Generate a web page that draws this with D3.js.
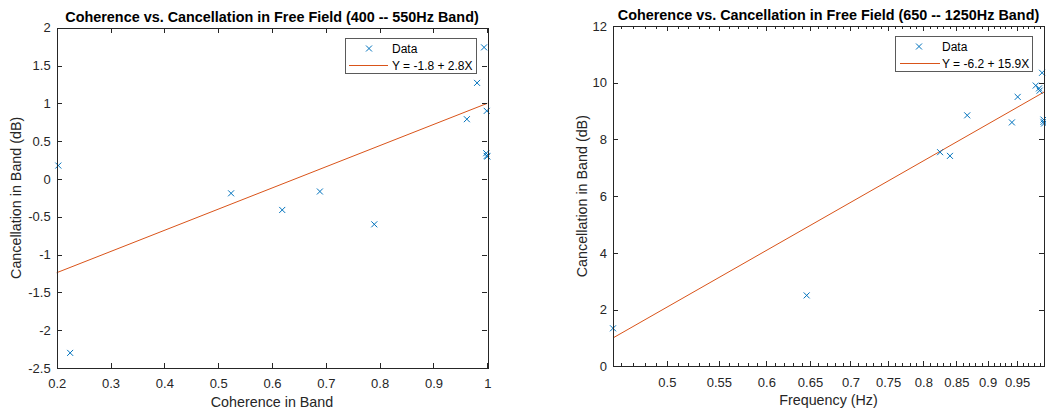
<!DOCTYPE html>
<html><head><meta charset="utf-8">
<script src="https://cdn.jsdelivr.net/npm/d3@7"></script>
<style>
html,body{margin:0;padding:0;background:#fff;}
svg{display:block;font-family:"Liberation Sans",Arial,Helvetica,sans-serif;}
</style></head>
<body>
<svg id="chart" width="1046" height="410"></svg>
<script>
// ---------- DATA ----------
// Left panel: 400 -- 550 Hz band
const leftTitle = "Coherence vs. Cancellation in Free Field (400 -- 550Hz Band)";
const leftXLabel = "Coherence in Band";
const leftYLabel = "Cancellation in Band (dB)";
const leftX = [0.203, 0.225, 0.524, 0.619, 0.689, 0.790, 0.962, 0.981, 0.994, 0.999, 0.998, 0.999, 1.000];
const leftY = [0.177, -2.30, -0.19, -0.41, -0.166, -0.60, 0.79, 1.27, 1.74, 0.90, 0.34, 0.305, 0.296];
const leftFitX = [0.2, 1.0];
const leftFitY = [-1.24, 1.0];
const leftFitLabel = "Y = -1.8 + 2.8X";
const leftXDomain = [0.2, 1];
const leftYDomain = [-2.5, 2];
const leftXTicks = [0.2, 0.3, 0.4, 0.5, 0.6, 0.7, 0.8, 0.9, 1];
const leftYTicks = [-2.5, -2, -1.5, -1, -0.5, 0, 0.5, 1, 1.5, 2];

// Right panel: 650 -- 1250 Hz band (log x axis)
const rightTitle = "Coherence vs. Cancellation in Free Field (650 -- 1250Hz Band)";
const rightXLabel = "Frequency (Hz)";
const rightYLabel = "Cancellation in Band (dB)";
const rightX = [0.453, 0.646, 0.825, 0.840, 0.867, 0.941, 0.951, 0.983, 0.989, 0.990, 0.9945, 0.997, 0.997, 0.998];
const rightY = [1.34, 2.50, 7.55, 7.42, 8.85, 8.60, 9.50, 9.90, 9.80, 9.72, 10.35, 8.70, 8.62, 8.56];
const rightFitX = [0.453, 0.998];
const rightFitY = [1.0, 9.67];
const rightFitLabel = "Y = -6.2 + 15.9X";
const rightXDomain = [0.453, 0.998];
const rightYDomain = [0, 12];
const rightXTicks = [0.5, 0.55, 0.6, 0.65, 0.7, 0.75, 0.8, 0.85, 0.9, 0.95];
const rightXMinor = [0.46,0.47,0.48,0.49,0.51,0.52,0.53,0.54,0.56,0.57,0.58,0.59,0.61,0.62,0.63,0.64,0.66,0.67,0.68,0.69,0.71,0.72,0.73,0.74,0.76,0.77,0.78,0.79,0.81,0.82,0.83,0.84,0.86,0.87,0.88,0.89,0.91,0.92,0.93,0.94,0.96,0.97,0.98,0.99];
const rightYTicks = [0, 2, 4, 6, 8, 10, 12];

const legendLabels = ["Data"];

// ---------- STYLE ----------
const axisColor = "#262626";
const dataColor = "#0072BD";
const fitColor = "#D95319";
const svg = d3.select("#chart");

function panel(opt) {
  const {x0, x1, y0, y1} = opt.box;
  const xs = (opt.log ? d3.scaleLog() : d3.scaleLinear()).domain(opt.xDomain).range([x0, x1]);
  const ys = d3.scaleLinear().domain(opt.yDomain).range([y1, y0]);
  const g = svg.append("g");
  const fmt = d => String(d);

  g.append("rect").attr("x", x0).attr("y", y0).attr("width", x1 - x0).attr("height", y1 - y0)
    .attr("fill", "#fff").attr("stroke", "none");

  // fit line
  g.append("path")
    .datum(opt.fitX.map((d, i) => [d, opt.fitY[i]]))
    .attr("d", d3.line().x(d => xs(d[0])).y(d => ys(d[1])))
    .attr("fill", "none").attr("stroke", fitColor).attr("stroke-width", 1);

  // markers
  const m = 3;
  const pts = g.append("g").selectAll("g").data(opt.xData.map((d, i) => [d, opt.yData[i]])).join("g")
    .attr("transform", d => `translate(${xs(d[0])},${ys(d[1])})`);
  pts.append("path").attr("d", `M${-m},${-m}L${m},${m}M${-m},${m}L${m},${-m}`)
    .attr("stroke", dataColor).attr("stroke-width", 1).attr("fill", "none");

  // axes
  const tl = 5, tlm = 3;
  const bottom = d3.axisBottom(xs).tickValues(opt.xTicks).tickFormat(fmt).tickSize(0).tickPadding(11);
  const left = d3.axisLeft(ys).tickValues(opt.yTicks).tickFormat(fmt).tickSize(0).tickPadding(6);
  const gb = g.append("g").attr("transform", `translate(0,${y1})`).call(bottom);
  const gl = g.append("g").attr("transform", `translate(${x0},0)`).call(left);
  [gb, gl].forEach(a => {
    a.select(".domain").remove();
    a.selectAll("text").attr("fill", axisColor).style("font-size", "13px")
      .style("font-family", '"Liberation Sans",Arial,sans-serif');
  });
  // inward ticks on all sides
  const tg = g.append("g").attr("stroke", axisColor).attr("stroke-width", 1).attr("shape-rendering", "crispEdges");
  opt.xTicks.forEach(t => {
    const x = Math.round(xs(t)) + 0.5;
    tg.append("line").attr("x1", x).attr("x2", x).attr("y1", y1).attr("y2", y1 - tl);
    tg.append("line").attr("x1", x).attr("x2", x).attr("y1", y0).attr("y2", y0 + tl);
  });
  (opt.xMinor || []).forEach(t => {
    const x = Math.round(xs(t)) + 0.5;
    tg.append("line").attr("x1", x).attr("x2", x).attr("y1", y1).attr("y2", y1 - tlm);
    tg.append("line").attr("x1", x).attr("x2", x).attr("y1", y0).attr("y2", y0 + tlm);
  });
  opt.yTicks.forEach(t => {
    const y = Math.round(ys(t)) + 0.5;
    tg.append("line").attr("x1", x0).attr("x2", x0 + tl).attr("y1", y).attr("y2", y);
    tg.append("line").attr("x1", x1).attr("x2", x1 - tl).attr("y1", y).attr("y2", y);
  });
  g.append("rect").attr("x", Math.round(x0) + 0.5).attr("y", Math.round(y0) + 0.5)
    .attr("width", Math.round(x1 - x0)).attr("height", Math.round(y1 - y0))
    .attr("fill", "none").attr("stroke", axisColor).attr("stroke-width", 1).attr("shape-rendering", "crispEdges");

  // title
  g.append("text").attr("x", (x0 + x1) / 2).attr("y", y0 - 6).attr("text-anchor", "middle")
    .attr("fill", "#000").style("font-size", "14.4px").style("font-weight", "bold").text(opt.title);
  // x label
  g.append("text").attr("x", (x0 + x1) / 2).attr("y", y1 + 39).attr("text-anchor", "middle")
    .attr("fill", axisColor).style("font-size", "14.3px").text(opt.xLabel);
  // y label
  g.append("text").attr("transform", `translate(${opt.yLabelX},${(y0 + y1) / 2}) rotate(-90)`)
    .attr("text-anchor", "middle").attr("fill", axisColor).style("font-size", "14.3px").text(opt.yLabel);

  // legend
  const L = opt.legend;
  const lg = g.append("g");
  lg.append("rect").attr("x", L.x + 0.5).attr("y", L.y + 0.5).attr("width", L.w).attr("height", L.h)
    .attr("fill", "#fff").style("stroke", "#5a5a5a").attr("stroke-width", 1.2).attr("shape-rendering", "crispEdges");
  const r1 = L.y + 10.5, r2 = L.y + 27;
  lg.append("path").attr("d", `M${L.mx - m},${r1 - m}L${L.mx + m},${r1 + m}M${L.mx - m},${r1 + m}L${L.mx + m},${r1 - m}`)
    .style("stroke", dataColor).attr("stroke-width", 1).attr("fill", "none");
  lg.append("text").attr("x", L.tx).attr("y", r1 + 4.5).attr("fill", "#000").style("font-size", "12px").text(legendLabels[0]);
  lg.append("path").attr("d", `M${L.lx0},${r2 + 0.5}H${L.lx1}`)
    .style("stroke", fitColor).style("fill", "none").attr("stroke-width", 1.2);
  lg.append("text").attr("x", L.tx).attr("y", r2 + 4.5).attr("fill", "#000").style("font-size", "12px").text(opt.fitLabel);
}

panel({
  box: {x0: 56.7, x1: 487.3, y0: 27.7, y1: 368},
  xDomain: leftXDomain, yDomain: leftYDomain, xTicks: leftXTicks, yTicks: leftYTicks,
  xData: leftX, yData: leftY, fitX: leftFitX, fitY: leftFitY, fitLabel: leftFitLabel,
  title: leftTitle, xLabel: leftXLabel, yLabel: leftYLabel, yLabelX: 21,
  legend: {x: 345, y: 38, w: 131, h: 35, mx: 369, tx: 392, lx0: 349, lx1: 388}
});
panel({
  log: true,
  box: {x0: 613, x1: 1044, y0: 26, y1: 366.3},
  xDomain: rightXDomain, yDomain: rightYDomain, xTicks: rightXTicks, xMinor: rightXMinor, yTicks: rightYTicks,
  xData: rightX, yData: rightY, fitX: rightFitX, fitY: rightFitY, fitLabel: rightFitLabel,
  title: rightTitle, xLabel: rightXLabel, yLabel: rightYLabel, yLabelX: 587,
  legend: {x: 895, y: 36, w: 137, h: 35, mx: 919, tx: 942, lx0: 900, lx1: 940}
});
</script>
</body></html>
